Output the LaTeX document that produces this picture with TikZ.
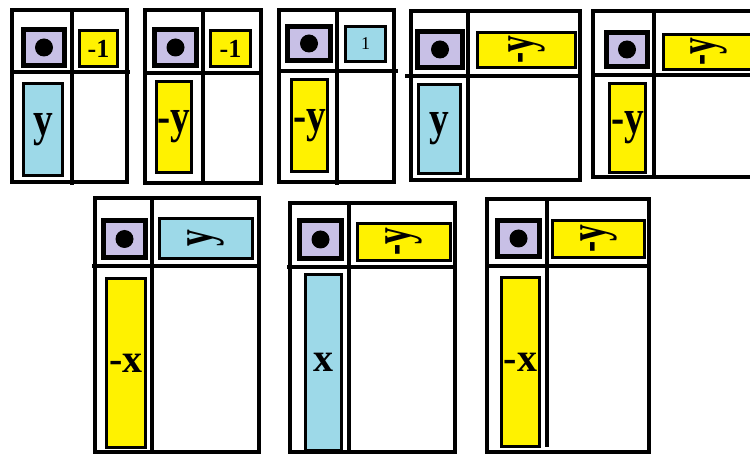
\documentclass[tikz,border=0pt]{standalone}
\usepackage{fontspec}
\setmainfont{Liberation Serif}
\definecolor{lav}{HTML}{C8C0E6}
\definecolor{yel}{HTML}{FFF200}
\definecolor{cya}{HTML}{9DD9E8}
\tikzset{
  frame/.style={line width=3.8pt},
  divider/.style={line width=3.8pt},
  purp/.style={fill=lav, draw=black, line width=5pt},
  ybox/.style={fill=yel, draw=black, line width=3pt},
  cbox/.style={fill=cya, draw=black, line width=3pt},
  dot/.style={circle, fill=black, inner sep=0pt, minimum size=18pt},
  lab/.style={inner sep=0pt, text=black},
  small/.style={lab, font=\fontsize{26}{26}\selectfont\bfseries},
  tiny/.style={lab, font=\fontsize{18}{18}\selectfont},
  big/.style={lab, font=\fontsize{48}{48}\selectfont\bfseries},
  bigx/.style={lab, font=\fontsize{40}{40}\selectfont\bfseries},
  rot/.style={lab, font=\fontsize{54}{54}\selectfont\bfseries},
}
% colored box from outer extents, text node in its centre
\newcommand\ebox[8]{%
  \draw[#2] ({#3+1.5},{#4+1.5}) rectangle ({#5-1.5},{#6-1.5});
  \node[#7] (#1) at ({(#3+#5)/2},{(#4+#6)/2}) {#8};}
\newcommand\pbox[5]{%
  \draw[purp] ({#2+2.5},{#3+2.5}) rectangle ({#4-2.5},{#5-2.5});
  \node[dot] (#1) at ({(#2+#4)/2},{(#3+#5)/2}) {};}
\newcommand\rotlab[1]{\rotatebox{90}{\scalebox{0.62}[1]{#1}}}
\newcommand\tall[1]{\scalebox{0.82}[1]{#1}}
\begin{document}
\begin{tikzpicture}[x=1pt,y=-1pt]
\useasboundingbox (0,0) rectangle (750,454);
\clip (0,0) rectangle (750,454);
\fill[white] (0,0) rectangle (750,454);

% ---------- row 1 ----------
% box 1
\pbox{p1}{21}{27}{67}{68}
\ebox{t1}{ybox}{78}{29}{119}{68}{small}{-1}
\ebox{l1}{cbox}{22}{82}{64}{177}{big}{\tall{y}}
\draw[frame] (12,10) rectangle (127,182);
\draw[divider] (72,10) -- (72,185);
\draw[divider] (12,72) -- (130,72);

% box 2
\pbox{p2}{152}{27}{199}{68}
\ebox{t2}{ybox}{209}{29}{252}{68}{small}{-1}
\ebox{l2}{ybox}{155}{80}{193}{174}{big}{\tall{-y}}
\draw[frame] (145,10) rectangle (261,183);
\draw[divider] (203,10) -- (203,185);
\draw[divider] (145,73) -- (261,73);

% box 3
\pbox{p3}{285}{24}{333}{63}
\ebox{t3}{cbox}{344}{25}{387}{63}{tiny}{1}
\ebox{l3}{ybox}{290}{78}{329}{173}{big}{\tall{-y}}
\draw[frame] (279,10) rectangle (394,182);
\draw[divider] (337,10) -- (337,185);
\draw[divider] (279,71) -- (398,71);

% box 4
\pbox{p4}{415}{29}{465}{70}
\ebox{t4}{ybox}{476}{31}{577}{69}{rot}{\rotlab{-y}}
\ebox{l4}{cbox}{417}{83}{462}{175}{big}{\tall{y}}
\draw[frame] (411,11) rectangle (580,180);
\draw[divider] (468,11) -- (468,180);
\draw[divider] (405,76) -- (580,76);

% box 5
\pbox{p5}{604}{30}{650}{69}
\ebox{t5}{ybox}{662}{33}{755}{71}{rot}{\rotlab{-y}}
\ebox{l5}{ybox}{608}{82}{647}{174}{big}{\tall{-y}}
\draw[frame] (593,11) rectangle (770,177);
\draw[divider] (654,11) -- (654,177);
\draw[divider] (593,75) -- (770,75);

% ---------- row 2 ----------
% box 6
\pbox{p6}{101}{218}{148}{260}
\ebox{t6}{cbox}{158}{217}{254}{260}{rot}{\rotlab{y}}
\ebox{l6}{ybox}{105}{277}{147}{449}{bigx}{-x}
\draw[frame] (95,198) rectangle (259,452);
\draw[divider] (152,198) -- (152,452);
\draw[divider] (92,266) -- (259,266);

% box 7
\pbox{p7}{297}{218}{344}{261}
\ebox{t7}{ybox}{356}{222}{452}{262}{rot}{\rotlab{-y}}
\ebox{l7}{cbox}{304}{273}{343}{452}{bigx}{x}
\draw[frame] (290,203) rectangle (455,452);
\draw[divider] (349,203) -- (349,452);
\draw[divider] (287,267) -- (455,267);

% box 8
\pbox{p8}{495}{218}{542}{259}
\ebox{t8}{ybox}{551}{219}{646}{259}{rot}{\rotlab{-y}}
\ebox{l8}{ybox}{500}{276}{541}{448}{bigx}{-x}
\draw[frame] (487,199) rectangle (649,452);
\draw[divider] (547,199) -- (547,447);
\draw[divider] (485,266) -- (649,266);
\end{tikzpicture}
\end{document}
